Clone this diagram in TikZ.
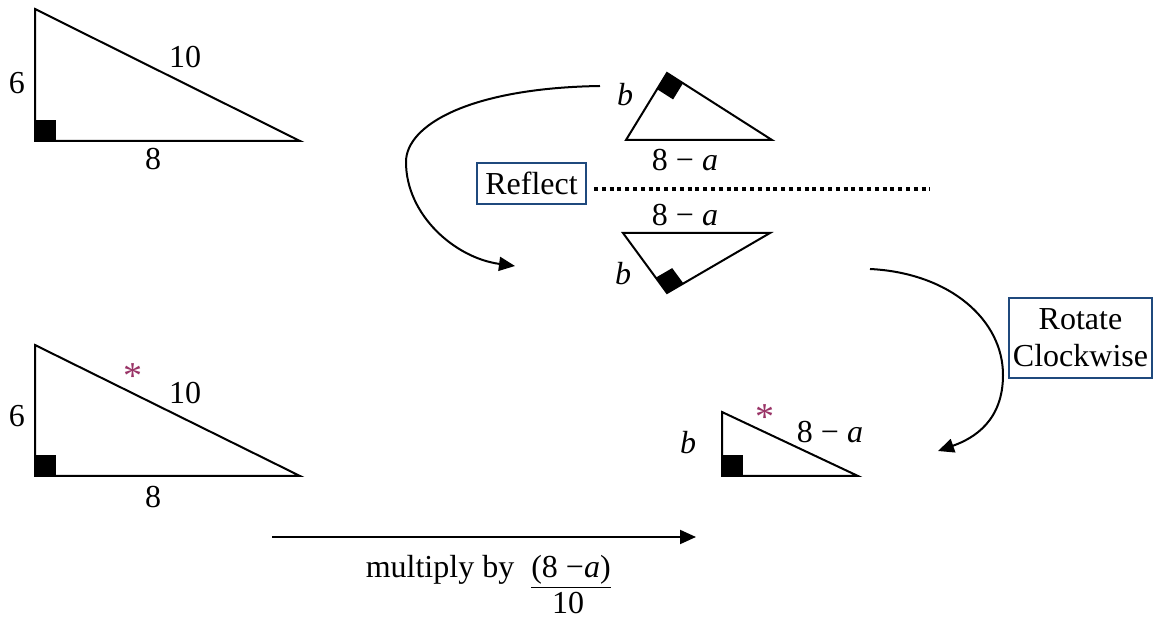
\documentclass[tikz,border=0pt]{standalone}
\usepackage{fontspec}
\setmainfont{Liberation Serif}
\usetikzlibrary{arrows.meta,calc}
\definecolor{boxblue}{RGB}{31,73,125}
\definecolor{starpurple}{RGB}{153,51,102}
\begin{document}
\begin{tikzpicture}[x=0.5pt,y=-0.5pt,
  lbl/.style={inner sep=0pt,font=\fontsize{16}{18.5}\selectfont},
  tri/.style={line width=1pt,line join=miter},
  sq/.style={fill=black},
  star/.style={inner sep=0pt,text=starpurple,font=\fontsize{19}{19}\selectfont},
  arr/.style={line width=1pt,-{Triangle[length=8pt,width=7pt]}},
  tbox/.style={draw=boxblue,line width=0.8pt,inner sep=0pt,align=center,font=\fontsize{16}{18.5}\selectfont}]
\useasboundingbox (0,0) rectangle (1153,619);
% ---- triangle 1 (top left)
\coordinate (t1r) at (35,141); \coordinate (t1t) at (35,9); \coordinate (t1e) at (300,141);
\draw[tri] (t1t) -- (t1r) -- (t1e) -- cycle;
\fill[sq] (t1r) rectangle ++(21,-21);
\node[lbl] (t1a) at (17,83) {6};
\node[lbl] (t1b) at (185,57) {10};
\node[lbl] (t1c) at (153,159) {8};
% ---- triangle 2 (bottom left)
\coordinate (t2r) at (35,476); \coordinate (t2t) at (35,345); \coordinate (t2e) at (300,476);
\draw[tri] (t2t) -- (t2r) -- (t2e) -- cycle;
\fill[sq] (t2r) rectangle ++(21,-21);
\node[lbl] (t2a) at (17,416) {6};
\node[star] (t2s) at (133,376) {*};
\node[lbl] (t2b) at (185,393) {10};
\node[lbl] (t2c) at (153,497) {8};
% ---- triangle A (top middle)
\coordinate (ta) at (667,73); \coordinate (tal) at (626,140); \coordinate (tar) at (772,140);
\draw[tri] (ta) -- (tal) -- (tar) -- cycle;
\coordinate (tap) at ($(ta)!9.5pt!(tal)$); \coordinate (taq) at ($(ta)!9.5pt!(tar)$);
\fill[sq] (ta) -- (tap) -- ($(tap)+(taq)-(ta)$) -- (taq) -- cycle;
\node[lbl] (tab) at (625,95) {\textit{b}};
\node[lbl] (tac) at (685,160) {8 − \textit{a}};
% ---- triangle B (reflected)
\coordinate (tb) at (667,293); \coordinate (tbl) at (623,233); \coordinate (tbr) at (770,233);
\draw[tri] (tb) -- (tbl) -- (tbr) -- cycle;
\coordinate (tbp) at ($(tb)!9.5pt!(tbl)$); \coordinate (tbq) at ($(tb)!9.5pt!(tbr)$);
\fill[sq] (tb) -- (tbp) -- ($(tbp)+(tbq)-(tb)$) -- (tbq) -- cycle;
\node[lbl] (tbb) at (623,274) {\textit{b}};
\node[lbl] (tbc) at (685,215) {8 − \textit{a}};
% ---- triangle C (bottom right)
\coordinate (tcr) at (722,476); \coordinate (tct) at (722,412); \coordinate (tce) at (858,476);
\draw[tri] (tct) -- (tcr) -- (tce) -- cycle;
\fill[sq] (tcr) rectangle ++(21,-21);
\node[lbl] (tcb) at (688,443) {\textit{b}};
\node[star] (tcs) at (765,417) {*};
\node[lbl] (tcc) at (830,432) {8 − \textit{a}};
% ---- reflect
\node[tbox,minimum width=54.5pt,minimum height=20.5pt] (refl) at (531.5,183.5) {Reflect};
\coordinate (dotS) at (594,189); \coordinate (dotE) at (930,189);
\draw[line width=2pt,dash pattern=on 2pt off 1.9pt] (dotS) -- (dotE);
% ---- rotate
\node[tbox,minimum width=71.5pt,minimum height=40pt] (rot) at (1080.5,338) {Rotate\\Clockwise};
% ---- curved arrows
\coordinate (c1s) at (600,86); \coordinate (c1m) at (406,162); \coordinate (c1e) at (515,266);
\draw[arr] (c1s) .. controls (470,88) and (406,125) .. (c1m) .. controls (406,215) and (455,258) .. (c1e);
\coordinate (c2s) at (870,269); \coordinate (c2m) at (1003,375); \coordinate (c2e) at (938,451);
\draw[arr] (c2s) .. controls (950,273) and (1003,320) .. (c2m) .. controls (1003,420) and (975,438) .. (c2e);
% ---- bottom arrow
\coordinate (bs) at (272,537); \coordinate (be) at (696,537);
\draw[arr] (bs) -- (be);
\node[lbl,anchor=base] (mul) at (440,578) {multiply by};
\node[lbl,anchor=base] (num) at (571,578) {\underline{(8 −\textit{a})}};
\node[lbl] (den) at (568,603) {10};
\end{tikzpicture}
\end{document}
